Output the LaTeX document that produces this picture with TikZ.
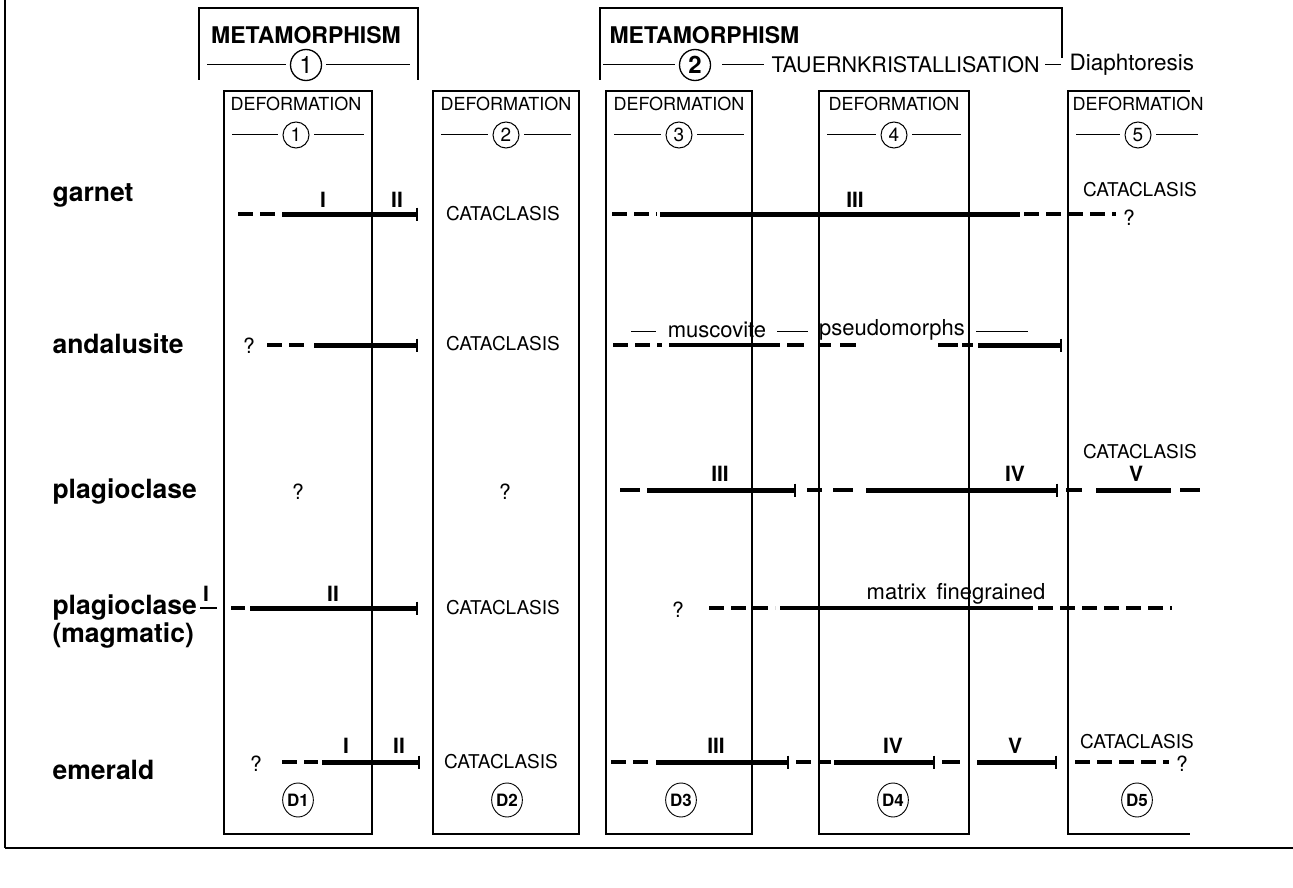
\documentclass[tikz,border=0pt]{standalone}
\usepackage{fontspec}
\setmainfont{TeX Gyre Heros}
\usetikzlibrary{arrows.meta,shapes.geometric}

\tikzset{
	frame/.style={line width=1.2pt},
	rowlabel/.style={anchor=west,font=\fontsize{26.5}{28}\selectfont\bfseries},
	meta/.style={font=\fontsize{23}{25}\selectfont\bfseries},
	defo/.style={font=\fontsize{18}{20}\selectfont},
	cata/.style={font=\fontsize{19}{21}\selectfont},
	roman/.style={anchor=south,inner sep=1pt,font=\fontsize{21}{23}\selectfont\bfseries},
	qmark/.style={font=\fontsize{21}{23}\selectfont},
	remark/.style={font=\fontsize{22}{24}\selectfont},
	num/.style={circle,draw,line width=1pt,inner sep=0pt,minimum size=26pt,font=\fontsize{19}{21}\selectfont},
	bignum/.style={circle,draw,line width=1.3pt,inner sep=0pt,minimum size=31pt,font=\fontsize{24}{26}\selectfont},
	dlabel/.style={ellipse,draw,line width=0.9pt,inner sep=0pt,minimum width=26pt,minimum height=34pt,font=\fontsize{17}{19}\selectfont\bfseries},
	bar/.style={line width=5pt},
	barend/.style={line width=5pt,-{Bar[width=13pt,line width=1.6pt]}},
	dsh/.style={line width=3.2pt,dash pattern=on 15pt off 7pt},
	thin/.style={line width=1pt},
}

\begin{document}
\begin{tikzpicture}[x=1pt,y=-1pt]
	\useasboundingbox (0,0) rectangle (1293,888);
	% outer frame
	\draw[line width=2.5pt] (5,0) -- (5,848);
	\draw[line width=1.5pt] (5,848) -- (1293,848);

	% metamorphism brackets
	\draw[frame] (199,80) -- (199,8) -- (418,8) -- (418,80);
	\node[meta] (meta1) at (306,35) {METAMORPHISM};
	\node[bignum] (m1) at (306,65) {1};
	\draw[thin] (207,65) -- (286,65);
	\draw[thin] (326,65) -- (410,65);

	\draw[frame] (600,80) -- (600,8) -- (1062,8) -- (1062,58);
	\node[meta,anchor=west] (meta2) at (606,35) {METAMORPHISM};
	\node[bignum,font=\fontsize{24}{26}\selectfont\bfseries] (m2) at (695,65) {2};
	\draw[thin] (603,65) -- (675,65);
	\draw[thin] (722,65) -- (764,65);
	\node[remark,anchor=west,font=\fontsize{21.5}{23}\selectfont] (tauern) at (768,65) {TAUERNKRISTALLISATION};
	\draw[thin] (1045,65) -- (1061,65);
	\node[remark,anchor=west,font=\fontsize{22.5}{24}\selectfont] (diaph) at (1066,65) {Diaphtoresis};

	% deformation columns
	\foreach \l/\r in {224/372, 433/579, 606/752, 819/969}
		\draw[frame] (\l,91) rectangle (\r,834);
	\draw[frame] (1190,91) -- (1068,91) -- (1068,834) -- (1190,834);
	\foreach \cx/\l/\r/\n in {296/224/372/1, 506/433/579/2, 679/606/752/3, 894/819/969/4, 1138/1068/1206/5}{
		\node[defo] (def\n) at (\cx,104) {DEFORMATION};
		\node[num] (c\n) at (\cx,135) {\n};
		\draw[thin] (\l+8,135) -- (\cx-18,135);
		\draw[thin] (\cx+18,135) -- (\r-8,135);
	}
	\foreach \cx/\n in {298/1, 507/2, 681/3, 893/4, 1137/5}
		\node[dlabel] (D\n) at (\cx,800) {D\n};

	% row labels
	\node[rowlabel] (garnet) at (49,195) {garnet};
	\node[rowlabel] (andal) at (49,344) {andalusite};
	\node[rowlabel] (plag) at (49,492) {plagioclase};
	\node[rowlabel] (plagm) at (49,608) {plagioclase};
	\node[rowlabel] (magm) at (49,636) {(magmatic)};
	\node[rowlabel] (emer) at (49,770) {emerald};

	% garnet
	\draw[dsh] (238,214) -- (282,214);
	\draw[barend] (282,214) -- (418,214);
	\node[roman] (g1) at (323,209) {I};
	\node[roman] (g2) at (397,209) {II};
	\node[cata] (gc2) at (503,214) {CATACLASIS};
	\draw[dsh] (612,214) -- (657,214);
	\draw[bar] (660,214) -- (1020,214);
	\draw[dsh] (1024,214) -- (1116,214);
	\node[roman] (g3) at (855,209) {III};
	\node[qmark] (gq) at (1129,218) {?};
	\node[cata] (gc5) at (1140,190) {CATACLASIS};

	% andalusite
	\node[qmark] (aq) at (249,346) {?};
	\draw[dsh] (267,345) -- (309,345);
	\draw[barend] (314,345) -- (418,345);
	\node[cata] (ac2) at (503,344) {CATACLASIS};
	\draw[dsh] (613,345) -- (662,345);
	\draw[line width=3.5pt] (669,345) -- (780,345);
	\draw[line width=3.2pt] (787,345) -- (804,345) (818,345) -- (831,345) (840,345) -- (856,345);
	\draw[line width=3.2pt] (938,345) -- (958,345) (962,345) -- (973,345);
	\draw[barend] (978,345) -- (1062,345);
	\draw[thin] (631,331) -- (656,331);
	\node[remark] (musc) at (717,330) {muscovite};
	\draw[thin] (777,331) -- (808,331);
	\node[remark] (pseudo) at (892,330) {pseudomorphs};
	\draw[thin] (976,331) -- (1028,331);

	% plagioclase
	\node[qmark] (pq1) at (298,492) {?};
	\node[qmark] (pq2) at (505,492) {?};
	\draw[line width=3.2pt] (620,490) -- (640,490);
	\draw[barend] (647,490) -- (796,490);
	\node[roman] (p3) at (720,483) {III};
	\draw[line width=3.2pt] (807,490) -- (822,490) (833,490) -- (853,490);
	\draw[barend] (866,490) -- (1058,490);
	\node[roman] (p4) at (1015,483) {IV};
	\draw[line width=3.2pt] (1066,490) -- (1082,490);
	\draw[bar] (1096,490) -- (1171,490);
	\draw[line width=3.2pt] (1180,490) -- (1200,490);
	\node[roman] (p5) at (1136,483) {V};
	\node[cata] (pc5) at (1140,452) {CATACLASIS};

	% plagioclase (magmatic)
	\node[roman] (pm1) at (206,603) {I};
	\draw[line width=1.6pt] (200,608) -- (217,608);
	\draw[line width=3.2pt] (231,608) -- (245,608);
	\draw[barend] (250,608) -- (418,608);
	\node[roman] (pm2) at (333,603) {II};
	\node[cata] (pmc2) at (503,608) {CATACLASIS};
	\node[qmark] (pmq) at (678,610) {?};
	\draw[dsh] (709,608) -- (775,608);
	\draw[line width=4pt] (780,608) -- (1033,608);
	\draw[dsh] (1038,608) -- (1172,608);
	\node[remark] (matrix) at (956,594) {matrix\hspace{10pt}finegrained};

	% emerald
	\node[qmark] (eq1) at (256,764) {?};
	\draw[dsh] (282,762) -- (318,762);
	\draw[barend] (322,762) -- (420,762);
	\node[roman] (e1) at (346,755) {I};
	\node[roman] (e2) at (399,755) {II};
	\node[cata] (ec2) at (501,762) {CATACLASIS};
	\draw[dsh] (611,762) -- (653,762);
	\draw[barend] (656,762) -- (789,762);
	\node[roman] (e3) at (716,755) {III};
	\draw[dsh] (796,762) -- (831,762);
	\draw[barend] (834,762) -- (935,762);
	\node[roman] (e4) at (893,755) {IV};
	\draw[line width=3.2pt] (942,762) -- (960,762);
	\draw[barend] (977,762) -- (1057,762);
	\node[roman] (e5) at (1015,755) {V};
	\node[cata] (ec5) at (1137,742) {CATACLASIS};
	\draw[dsh] (1075,762) -- (1169,762);
	\node[qmark] (eq2) at (1182,764) {?};
\end{tikzpicture}
\end{document}
